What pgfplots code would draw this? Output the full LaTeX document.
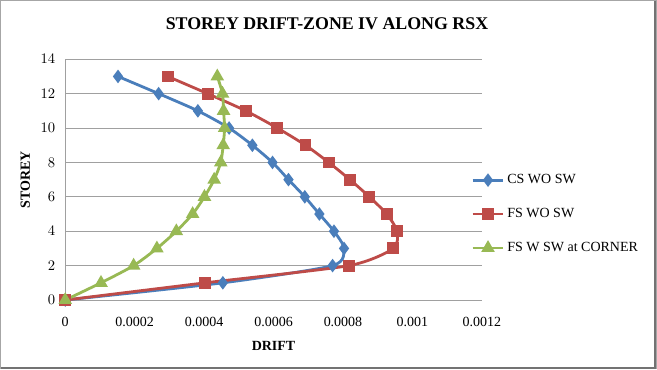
\documentclass[border=0pt]{standalone}
\usepackage{pgfplots}
\pgfplotsset{compat=1.18}
\usepackage{fontspec}
\setmainfont{Liberation Serif}
\definecolor{cblue}{HTML}{4A7EBB}
\definecolor{cred}{HTML}{BE4B48}
\definecolor{cgreen}{HTML}{98B954}
\definecolor{gridgray}{HTML}{A0A0A0}
\begin{document}
\begin{tikzpicture}[x=0.75pt,y=0.75pt]
\fill[white] (0,0) rectangle (657,369);
\draw[gray!70,line width=0.8pt] (0.5,0.5) rectangle (656.5,368.5);
\draw[gray!90!black,line width=1.2pt] (655.5,0.5) -- (655.5,368.5);
\draw[gray!90!black,line width=1.2pt] (0.5,1) -- (656.5,1);
\node[font=\fontsize{13.4}{15}\selectfont\bfseries] at (327,346) {STOREY DRIFT-ZONE IV ALONG RSX};
\begin{axis}[
  at={(48.75pt,51.75pt)}, anchor=south west,
  scale only axis, width=312.75pt, height=180.75pt,
  xmin=0, xmax=0.0012, ymin=0, ymax=14,
  xtick={0,0.0002,0.0004,0.0006,0.0008,0.001,0.0012},
  xticklabels={0,0.0002,0.0004,0.0006,0.0008,0.001,0.0012},
  ytick={0,2,...,14},
  ymajorgrids, grid style={gridgray, line width=0.6pt},
  axis x line*=bottom, axis y line*=left,
  axis line style={gridgray, line width=0.6pt},
  x axis line style={draw=none},
  major tick length=0pt,
  tick label style={font=\fontsize{10.5}{12}\selectfont},
  xticklabel style={yshift=-9pt},
  yticklabel style={xshift=-4pt},
  scaled x ticks=false,
  xlabel={\bfseries DRIFT}, ylabel={\bfseries STOREY},
  label style={font=\fontsize{10.5}{12}\selectfont},
  xlabel style={at={(axis description cs:0.5,-0.191)}, anchor=center},
  ylabel style={at={(axis description cs:-0.096,0.5)}, anchor=center},
  clip=false,
  legend style={draw=none, fill=none, at={(axis description cs:0.974,0.357)}, anchor=west,
    font=\fontsize{10.5}{12}\selectfont, row sep=13pt, inner sep=0pt,
    cells={anchor=west}},
  legend image code/.code={
    \draw[#1, mark=none] (0pt,0pt) -- (23pt,0pt);
    \draw[#1, only marks] plot coordinates {(11.5pt,0pt)};
  },
]
\addplot[cblue, line width=2.1pt, smooth, tension=0.4, mark=diamond*, mark size=3.4pt, mark options={solid, fill=cblue}] coordinates {
(0,0) (0.000454,1) (0.000770,2) (0.000803,3) (0.000774,4) (0.000732,5) (0.000690,6) (0.000643,7) (0.000597,8) (0.000539,9) (0.000472,10) (0.000382,11) (0.000269,12) (0.000152,13)};
\addlegendentry{CS WO SW}
\addplot[cred, line width=2.1pt, smooth, tension=0.4, mark=square*, mark size=3.4pt, mark options={solid, fill=cred}] coordinates {
(0,0) (0.000403,1) (0.000817,2) (0.000945,3) (0.000956,4) (0.000926,5) (0.000876,6) (0.000820,7) (0.000759,8) (0.000692,9) (0.000611,10) (0.000520,11) (0.000410,12) (0.000295,13)};
\addlegendentry{FS WO SW}
\addplot[cgreen, line width=2.1pt, smooth, tension=0.4, mark=triangle*, mark size=3.8pt, mark options={solid, fill=cgreen}] coordinates {
(0,0) (0.000103,1) (0.000197,2) (0.000264,3) (0.000320,4) (0.000367,5) (0.000401,6) (0.000429,7) (0.000448,8) (0.000455,9) (0.000459,10) (0.000456,11) (0.000453,12) (0.000438,13)};
\addlegendentry{FS W SW at CORNER}
\end{axis}
\end{tikzpicture}
\end{document}
